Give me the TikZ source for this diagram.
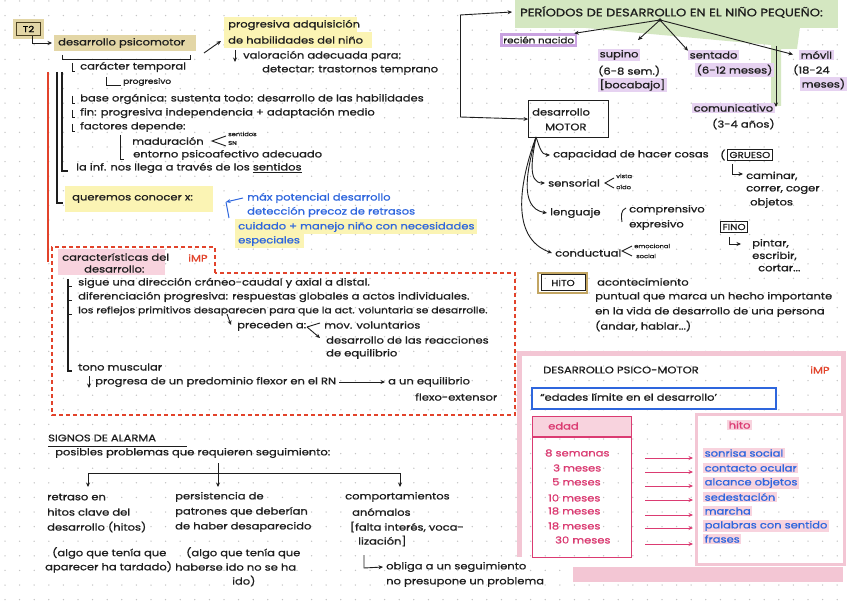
\documentclass[tikz,border=0pt]{standalone}
\usepackage{fontspec}
\setmainfont{Poppins}[FakeStretch=1.2,FakeBold=1]
\usetikzlibrary{arrows.meta}
\definecolor{ink}{HTML}{1E1E1E}
\definecolor{dotc}{HTML}{C4C4C4}
\definecolor{tanc}{HTML}{E3D6A6}
\definecolor{tanb}{HTML}{4A3F20}
\definecolor{tanh}{HTML}{C2A562}
\definecolor{yel}{HTML}{FBF4B4}
\definecolor{grn}{HTML}{D4E7C1}
\definecolor{pur}{HTML}{C9A2E0}
\definecolor{purl}{HTML}{E6D2F1}
\definecolor{pnk}{HTML}{F8D3DE}
\definecolor{pnkb}{HTML}{F3C6D4}
\definecolor{mag}{HTML}{DB3B72}
\definecolor{redd}{HTML}{E2432B}
\definecolor{blu}{HTML}{2E66DD}
\begin{document}
\begin{tikzpicture}[x=1pt,y=-1pt,
  t/.style={anchor=west,inner sep=0pt,text=ink,font=\fontsize{9.6}{11}\selectfont},
  ts/.style={anchor=west,inner sep=0pt,text=ink,font=\fontsize{5.6}{6.5}\selectfont},
  bt/.style={t,text=blu},
  mt/.style={t,text=mag},
  ln/.style={draw=ink,line width=0.9pt},
  arr/.style={ln,-{Stealth[length=4.5pt,width=4pt]}},
  parr/.style={draw=mag,line width=1pt,-{Stealth[length=4.5pt,width=4pt]}},
  hl/.style={fill=purl,inner sep=1.5pt},
  ph/.style={fill=pnk,inner sep=1.5pt},
  bx/.style={draw=ink,line width=1pt,inner sep=2pt,anchor=west,text=ink,font=\fontsize{8.6}{10}\selectfont},
]
\useasboundingbox (0,0) rectangle (848,601);
\fill[white] (0,0) rectangle (848,601);
\foreach \i in {0,...,57}{\foreach \j in {0,...,41}{\fill[dotc] ({5+\i*14.6},{1+\j*14.6}) circle (0.75);}}

% ---------- highlights ----------
\fill[tanc] (13,19) rectangle (44,39);
\fill[tanc] (54,35) rectangle (196,51);
\fill[yel] (224,17) rectangle (357,32);
\fill[yel] (224,32) rectangle (372,48);
\fill[yel] (65,186) rectangle (213,212);
\fill[yel] (235,219) rectangle (477,234);
\fill[yel] (235,234) rectangle (304,248);
\fill[pnk] (58,249) rectangle (165,275);
\fill[grn] (515,0) rectangle (838,28);
\fill[grn] (575,27) -- (800,27) -- (797,49) -- (781,49) -- (781,106) -- (771,106) -- (771,45) -- (640,33) -- cycle;

% ---------- top-left ----------
\node[draw=tanb,line width=1.1pt,minimum width=24,minimum height=13,inner sep=0pt,font=\fontsize{8.6}{10}\selectfont] (t2) at (28.5,29) {T2};
\node[t] (dp) at (58,43) {desarrollo psicomotor};
\draw[arr] ([xshift=4]t2.south) |- ([xshift=-6]dp.west);
\node[t] (pa) at (228,25) {progresiva adquisición};
\node[t] (pb) at (228,40) {de habilidades del niño};
\draw[arr] (204,53) -- (221,41);
\node[t] (va) at (243,56) {valoración adecuada para:};
\draw[arr] (235,50) -- (235,62);
\node[t] (dt) at (262,70) {detectar: trastornos temprano};
\draw[ln] (62,55) -- (62,59) -- (190,59) -- (190,55);

\draw[redd,line width=1.8pt] (48,72) -- (48,262);
\draw[ln,line width=1.2pt] (57,72) -- (57,203) -- (63,203);
\draw[ln,line width=1.2pt] (62,72) -- (62,171) -- (68,171);

\node[t] (ct) at (80,67) {carácter temporal};
\draw[ln] (72,63) -- (72,71) -- (75,71);
\draw[ln] (106,77) -- (106,85) -- (121,85);
\node[t,font=\fontsize{7.5}{9}\selectfont] (pr) at (123,82) {progresivo};
\node[t] (bo) at (80,99) {base orgánica: sustenta todo: desarrollo de las habilidades};
\draw[ln] (72,96) -- (72,103) -- (75,103);
\node[t] (fi) at (80,113) {fin: progresiva independencia + adaptación medio};
\draw[ln] (72,110) -- (72,117) -- (75,117);
\node[t] (fa) at (80,127) {factores depende:};
\draw[ln] (72,124) -- (72,131) -- (75,131);
\draw[ln] (120,135) -- (120,159) -- (124,159);
\node[t] (ma) at (132,141) {maduración};
\draw[ln] (226,136) -- (212,141) -- (226,146);
\node[ts] (se) at (228,134) {sentidos};
\node[ts] (sn) at (228,143) {SN};
\node[t] (en) at (133,155) {entorno psicoafectivo adecuado};
\node[t] (li) at (76,168) {la inf. nos llega a través de los \underline{sentidos}};
\node[t] (qc) at (72,199) {queremos conocer x:};

\draw[blu,line width=1pt,-{Stealth[length=4.5pt,width=4pt]}] (243,198) -- (226,202);
\draw[blu,line width=1pt] (226,202) -- (229,218);
\node[bt] (mp) at (247,198) {máx potencial desarrollo};
\node[bt] (dr) at (247,212) {detección precoz de retrasos};
\node[bt] (cm) at (238,227) {cuidado + manejo niño con necesidades};
\node[bt] (es) at (238,241) {especiales};

\node[t] (ca) at (62,257) {características del};
\node[t] (cd) at (84,269) {desarrollo:};
\node[t,text=redd] (imp1) at (188,258) {iMP};

% ---------- dashed box ----------
\draw[redd,line width=1.1pt,dash pattern=on 4pt off 3pt] (215,273) -- (215,247) -- (52,247) -- (52,415) -- (515,415) -- (515,273) -- cycle;
\draw[ln,line width=1.2pt] (68,279) -- (68,371) -- (72,371);
\foreach \yy in {286,300,314}{\draw[ln] (68,\yy) -- (72,\yy);}
\node[t] (s1) at (78,283) {sigue una dirección cráneo-caudal y axial a distal.};
\node[t] (s2) at (78,297) {diferenciación progresiva: respuestas globales a actos individuales.};
\node[t,font=\fontsize{9}{10}\selectfont] (s3) at (78,311) {los reflejos primitivos desaparecen para que la act. voluntaria se desarrolle.};
\draw[arr] (227,314) -- (231,325);
\node[t] (pc) at (237,326) {preceden a:};
\draw[ln] (307,327) -- (320,323);
\draw[arr] (307,327) -- (320,338);
\node[t] (mv) at (324,325) {mov. voluntarios};
\node[t] (dl) at (326,340) {desarrollo de las reacciones};
\node[t] (de) at (326,354) {de equilibrio};
\node[t] (tm) at (78,367) {tono muscular};
\draw[arr] (89,376) -- (89,388);
\node[t] (pg) at (95,382) {progresa de un predominio flexor en el RN};
\node[t] (ae) at (388,382) {a un equilibrio};
\draw[arr] ([xshift=3]pg.east) -- ([xshift=-3]ae.west);
\node[t] (fx) at (415,397) {flexo-extensor};

% ---------- signos de alarma ----------
\node[t] (sa) at (48,438) {SIGNOS DE ALARMA};
\draw[ln] (48,446) -- (187,446);
\node[t] (pp) at (55,453) {posibles problemas que requieren seguimiento:};
\coordinate (tl) at (88,473);
\coordinate (tr) at (400,473);
\draw[ln] (tl) -- (tr);
\draw[arr] (tl) -- (88,487);
\draw[arr] (218,463) -- (218,487);
\draw[arr] (tr) -- (400,487);
\node[t] (a1) at (47,497) {retraso en};
\node[t] (a2) at (47,512) {hitos clave del};
\node[t] (a3) at (47,527) {desarrollo (hitos)};
\node[t] (a4) at (52,553) {(algo que tenía que};
\node[t] (a5) at (45,567) {aparecer ha tardado)};
\node[t] (b1) at (175,497) {persistencia de};
\node[t] (b2) at (175,512) {patrones que deberían};
\node[t] (b3) at (175,527) {de haber desaparecido};
\node[t] (b4) at (186,553) {(algo que tenía que};
\node[t] (b5) at (175,567) {haberse ido no se ha};
\node[t] (b6) at (232,581) {ido)};
\node[t] (c1) at (345,497) {comportamientos};
\node[t] (c2) at (352,512) {anómalos};
\node[t] (c3) at (350,527) {[falta interés, voca-};
\node[t] (c4) at (358,541) {lización]};
\node[t] (c5) at (386,567) {obliga a un seguimiento};
\node[t] (c6) at (386,582) {no presupone un problema};
\draw[arr] (364,555) -- (364,568) -- ([xshift=-3]c5.west);

% ---------- periodos ----------
\node[t,font=\fontsize{10.9}{12}\selectfont] (hd) at (520,12) {PERÍODOS DE DESARROLLO EN EL NIÑO PEQUEÑO:};
\coordinate (hub) at (660,20);
\fill[ink] (hub) circle (1.8);
\node[draw=pur,line width=2.5pt,fill=white,inner sep=2pt,anchor=west,text=ink,font=\fontsize{8.6}{10}\selectfont] (rn) at (500,40) {recién nacido};
\node[t,hl] (su) at (598,55) {supino};
\node[t] (su2) at (598,71) {(6-8 sem.)};
\node[t,hl] (su3) at (598,85) {[bocabajo]};
\node[t,hl] (sd) at (688,55) {sentado};
\node[t,hl] (sd2) at (695,70) {(6-12 meses)};
\node[t,hl] (mo) at (799,55) {móvil};
\node[t] (mo2) at (793,70) {(18-24};
\node[t,hl] (mo3) at (800,84) {meses)};
\node[t,hl] (co) at (692,108) {comunicativo};
\node[t] (co2) at (712,124) {(3-4 años)};
\draw[arr] (hub) -- ([xshift=-3]rn.north east);
\draw[arr] (hub) -- (638,40);
\draw[arr] (hub) -- ([yshift=-1]sd.north west);
\draw[arr] (hub) -- ([xshift=-6,yshift=-5]mo.north west);
\draw[arr] (776,46) -- (776,107);

\node[draw=ink,line width=1.2pt,minimum width=80,minimum height=37,anchor=north west] (dm) at (528,100) {};
\node[t] (dm1) at (532,112) {desarrollo};
\node[t] (dm2) at (545,127) {MOTOR};
\draw[ln] (460,15) -- (460,117);
\draw[arr] (460,15) -- ([xshift=-8]hd.west);
\draw[arr] (460,117) -- (dm.west);

\coordinate (m0) at (536,137);
\node[t] (cap) at (553,155) {capacidad de hacer cosas};
\node[t] (sen) at (548,183) {sensorial};
\node[t] (len) at (550,213) {lenguaje};
\node[t] (con) at (555,253) {conductual};
\draw[arr] (m0) to[out=-70,in=180] ([xshift=-3]cap.west);
\draw[arr] (m0) to[out=-100,in=180] ([xshift=-3]sen.west);
\draw[arr] (m0) to[out=-105,in=170] ([xshift=-3]len.west);
\draw[arr] (m0) to[out=-110,in=160] ([xshift=-3]con.west);

\node[t] (par) at (720,155) {(};
\node[bx] (gr) at (727,155) {GRUESO};
\draw[arr] (732,164) -- (732,174) -- (743,174);
\node[t] (g1) at (746,176) {caminar,};
\node[t] (g2) at (746,190) {correr, coger};
\node[t] (g3) at (750,203) {objetos};
\draw[ln] (614,178) -- (605,183) -- (614,188);
\node[ts] (vi) at (616,176) {vista};
\node[ts] (oi) at (616,187) {oído};
\draw[ln] (626,208) to[out=200,in=100] (622,222);
\node[t] (cp) at (629,210) {comprensivo};
\node[t] (ex) at (629,225) {expresivo};
\draw[ln] (632,246) -- (622,251) -- (632,256);
\node[ts] (em) at (634,246) {emocional};
\node[ts] (so) at (636,256) {social};
\node[bx] (fino) at (720,227) {FINO};
\draw[arr] (729,237) -- (729,244) -- (741,244);
\node[t] (f1) at (752,244) {pintar,};
\node[t] (f2) at (752,256) {escribir,};
\node[t] (f3) at (758,268) {cortar...};

% ---------- hito ----------
\draw[tanh,line width=2.5pt] (538,273) rectangle (587,293);
\node[bx,minimum width=44,minimum height=16] (hi) at (540.5,283) {HITO};
\node[t] (h1) at (597,282) {acontecimiento};
\node[t] (h2) at (595,297) {puntual que marca un hecho importante};
\node[t] (h3) at (595,312) {en la vida de desarrollo de una persona};
\node[t] (h4) at (595,326) {(andar, hablar...)};

% ---------- psico-motor box ----------
\draw[pnkb,line width=5pt] (519,557) -- (519,353) -- (843,353) -- (843,413);
\fill[pnkb] (573,567) rectangle (843,582);
\node[t] (ps) at (543,370) {DESARROLLO PSICO-MOTOR};
\node[t,text=redd] (imp2) at (810,370) {iMP};
\node[draw=blu,line width=1.5pt,minimum width=244,minimum height=21,anchor=north west] (el) at (531,387) {};
\node[t] (elt) at (540,397) {“edades límite en el desarrollo’};

\fill[pnk] (532,416) rectangle (631,437);
\node[draw=mag,line width=1.1pt,minimum width=99,minimum height=141,anchor=north west] (ed) at (532,416) {};
\draw[mag,line width=1.1pt] (532,437) -- (631,437);
\node[mt] (edt) at (548,426) {edad};
\node[mt] (e1) at (545,453) {8 semanas};
\node[mt] (e2) at (553,468) {3 meses};
\node[mt] (e3) at (552,482) {5 meses};
\node[mt] (e4) at (548,498) {10 meses};
\node[mt] (e5) at (548,511) {18 meses};
\node[mt] (e6) at (548,526) {18 meses};
\node[mt] (e7) at (555,540) {30 meses};

\node[draw=pnkb,line width=3pt,minimum width=148,minimum height=150,anchor=north west] (hb) at (695,413) {};
\node[mt,ph] (hbt) at (727,425) {hito};
\node[bt,ph] (m1) at (703,453) {sonrisa social};
\node[bt,ph] (m2) at (703,468) {contacto ocular};
\node[bt,ph] (m3) at (703,483) {alcance objetos};
\node[bt,ph] (m4) at (703,497) {sedestación};
\node[bt,ph] (m5) at (703,511) {marcha};
\node[bt,ph] (m6) at (703,526) {palabras con sentido};
\node[bt,ph] (m7) at (703,539) {frases};
\foreach \yy in {458,472,486,500,515,528,544}{\draw[parr] (645,\yy) -- (693,\yy);}
\end{tikzpicture}
\end{document}
